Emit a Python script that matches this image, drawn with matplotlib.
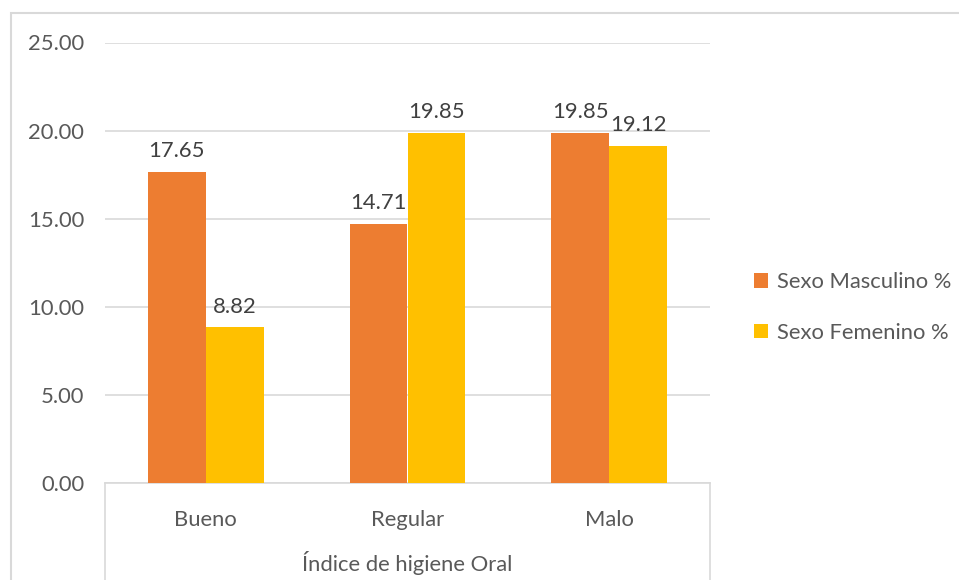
import numpy as np
import matplotlib.pyplot as plt
from matplotlib.patches import Rectangle

# Datos: índice de higiene oral por sexo (%)
categorias = ['Bueno', 'Regular', 'Malo']
masculino = [17.65, 14.71, 19.85]
femenino = [8.82, 19.85, 19.12]
series = ['Sexo Masculino %', 'Sexo Femenino %']
titulo_x = 'Índice de higiene Oral'

plt.rcParams['font.family'] = ['Lato', 'DejaVu Sans']
FS = 15.8

W, H = 959, 580
fig = plt.figure(figsize=(W / 100, H / 100), dpi=100)
ax = fig.add_axes([105 / W, (H - 482.7) / H, (710 - 105) / W, (482.7 - 42.5) / H])

x = np.arange(len(categorias))
ancho = 0.2875
b1 = ax.bar(x - ancho / 2, masculino, ancho, color='#ED7D31', label=series[0], zorder=3)
b2 = ax.bar(x + ancho / 2, femenino, ancho, color='#FFC000', label=series[1], zorder=3)

# etiquetas de valor sobre cada barra
for barras, vals in ((b1, masculino), (b2, femenino)):
    for r, v in zip(barras, vals):
        ax.annotate(f'{v:.2f}', (r.get_x() + r.get_width() / 2, v),
                    xytext=(0, 15), textcoords='offset points',
                    ha='center', va='center', fontsize=FS, color='#404040')

ax.set_xlim(-0.5, 2.5)
ax.set_ylim(0, 25)
ax.set_yticks(np.arange(0, 26, 5))
ax.set_yticklabels([f'{t:.2f}' for t in np.arange(0, 26, 5)])
ax.grid(axis='y', color='#D9D9D9', linewidth=1.2, zorder=0)
ax.tick_params(axis='y', length=0, pad=15, labelsize=FS, labelcolor='#595959')
ax.set_xticks(x)
ax.set_xticklabels(categorias)
ax.tick_params(axis='x', length=0, pad=20, labelsize=FS, labelcolor='#595959')

for s in ('top', 'right', 'left'):
    ax.spines[s].set_visible(False)
ax.spines['bottom'].set_color('#D9D9D9')
ax.spines['bottom'].set_linewidth(1.2)

# líneas verticales del eje de categorías
for xa in (0, 1):
    ax.plot([xa, xa], [0, -0.3], transform=ax.transAxes, clip_on=False,
            color='#D9D9D9', linewidth=1.2)

ax.text(0.5, -0.183, titulo_x, transform=ax.transAxes, ha='center', va='center',
        fontsize=FS, color='#595959')

leg = ax.legend(loc='center left', bbox_to_anchor=(1.04, 0.398), frameon=False,
                fontsize=FS, handlelength=0.65, handleheight=0.65,
                handletextpad=0.4, labelspacing=1.4)
for t in leg.get_texts():
    t.set_color('#595959')

# borde del área del gráfico
fig.patches.append(Rectangle((11 / W, -0.2), 2, (H - 13) / H + 0.2,
                             transform=fig.transFigure, fill=False,
                             edgecolor='#D9D9D9', linewidth=1.5))

fig.savefig('out.png', dpi=100)
